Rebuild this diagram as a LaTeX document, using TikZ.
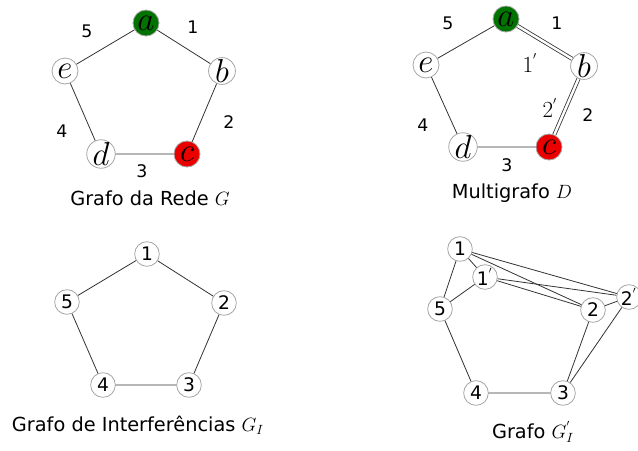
\documentclass[tikz,border=0pt]{standalone}
\usepackage{fontspec}
\setmainfont{DejaVu Sans}
\usepackage{xcolor}
\definecolor{grn}{RGB}{0,115,0}
\definecolor{rd}{RGB}{235,0,0}

\tikzset{
vtx/.style={circle,draw=gray!70,line width=0.6pt,fill=white,inner sep=0pt,minimum size=19.5pt,font=\fontsize{24}{24}\selectfont},
num/.style={circle,draw=gray!70,line width=0.6pt,fill=white,inner sep=0pt,minimum size=18.5pt,font=\fontsize{14}{14}\selectfont},
lbl/.style={font=\fontsize{13}{13}\selectfont},
plbl/.style={font=\fontsize{16}{16}\selectfont},
caption/.style={font=\fontsize{14.5}{15}\selectfont},
edge/.style={line width=0.6pt,black!80},
dedge/.style={edge,double,double distance=1.8pt}
}

\begin{document}
\begin{tikzpicture}[x=0.75pt,y=-0.75pt]
\useasboundingbox (0,0) rectangle (638,450);

% grafo da rede
\node[vtx,fill=grn] (a) at (146,23) {$a$};
\node[vtx] (b) at (222,71) {$b$};
\node[vtx,fill=rd] (c) at (187,154) {$c$};
\node[vtx] (d) at (101,154) {$d$};
\node[vtx] (e) at (65,71) {$e$};
\draw[edge] (a) -- (b) -- (c) -- (d) -- (e) -- (a);
\node[lbl] (l5) at (87,31) {5};
\node[lbl] (l1) at (193,27) {1};
\node[lbl] (l2) at (229,122) {2};
\node[lbl] (l4) at (62,131) {4};
\node[lbl] (l3) at (142,171) {3};
\node[caption] (capG) at (150,198) {Grafo da Rede $G$};

% multigrafo
\node[vtx,fill=grn] (ma) at (506,19) {$a$};
\node[vtx] (mb) at (584,66) {$b$};
\node[vtx,fill=rd] (mc) at (549,147) {$c$};
\node[vtx] (md) at (463,147) {$d$};
\node[vtx] (me) at (426,65) {$e$};
\draw[dedge] (ma) -- (mb);
\draw[dedge] (mb) -- (mc);
\draw[edge] (mc) -- (md) -- (me) -- (ma);
\node[lbl] (m5) at (448,23) {5};
\node[lbl] (m1) at (557,23) {1};
\node[plbl] (m1p) at (530,63) {$1^{'}$};
\node[plbl] (m2p) at (550,108) {$2^{'}$};
\node[lbl] (m2) at (588,115) {2};
\node[lbl] (m4) at (423,125) {4};
\node[lbl] (m3) at (507,165) {3};
\node[caption] (capD) at (512,193) {Multigrafo $D$};

% grafo de interferencias
\node[num] (i1) at (147,254) {1};
\node[num] (i2) at (224,303) {2};
\node[num] (i3) at (189,385) {3};
\node[num] (i4) at (103,385) {4};
\node[num] (i5) at (67,302) {5};
\draw[edge] (i1) -- (i2) -- (i3) -- (i4) -- (i5) -- (i1);
\node[caption] (capGI) at (138,425) {Grafo de Interferências $G_I$};

% grafo G_I'
\node[num] (j1) at (460,249) {1};
\node[num] (j1p) at (485,277) {1$^{'}$};
\node[num] (j5) at (440,309) {5};
\node[num] (j2) at (593,310) {2};
\node[num] (j2p) at (629,297) {2$^{'}$};
\node[num] (j3) at (563,393) {3};
\node[num] (j4) at (476,393) {4};
\draw[edge] (j1) -- (j5);
\draw[edge] (j1) -- (j1p);
\draw[edge] (j1p) -- (j5);
\draw[edge] (j1) -- (j2p);
\draw[edge] (j1) -- (j2);
\draw[edge] (j1p) -- (j2);
\draw[edge] (j1p) -- (j2p);
\draw[edge] (j2) -- (j2p);
\draw[edge] (j5) -- (j4) -- (j3) -- (j2);
\draw[edge] (j3) -- (j2p);
\node[caption] (capGIp) at (533,432) {Grafo $G^{'}_{I}$};

\end{tikzpicture}
\end{document}
